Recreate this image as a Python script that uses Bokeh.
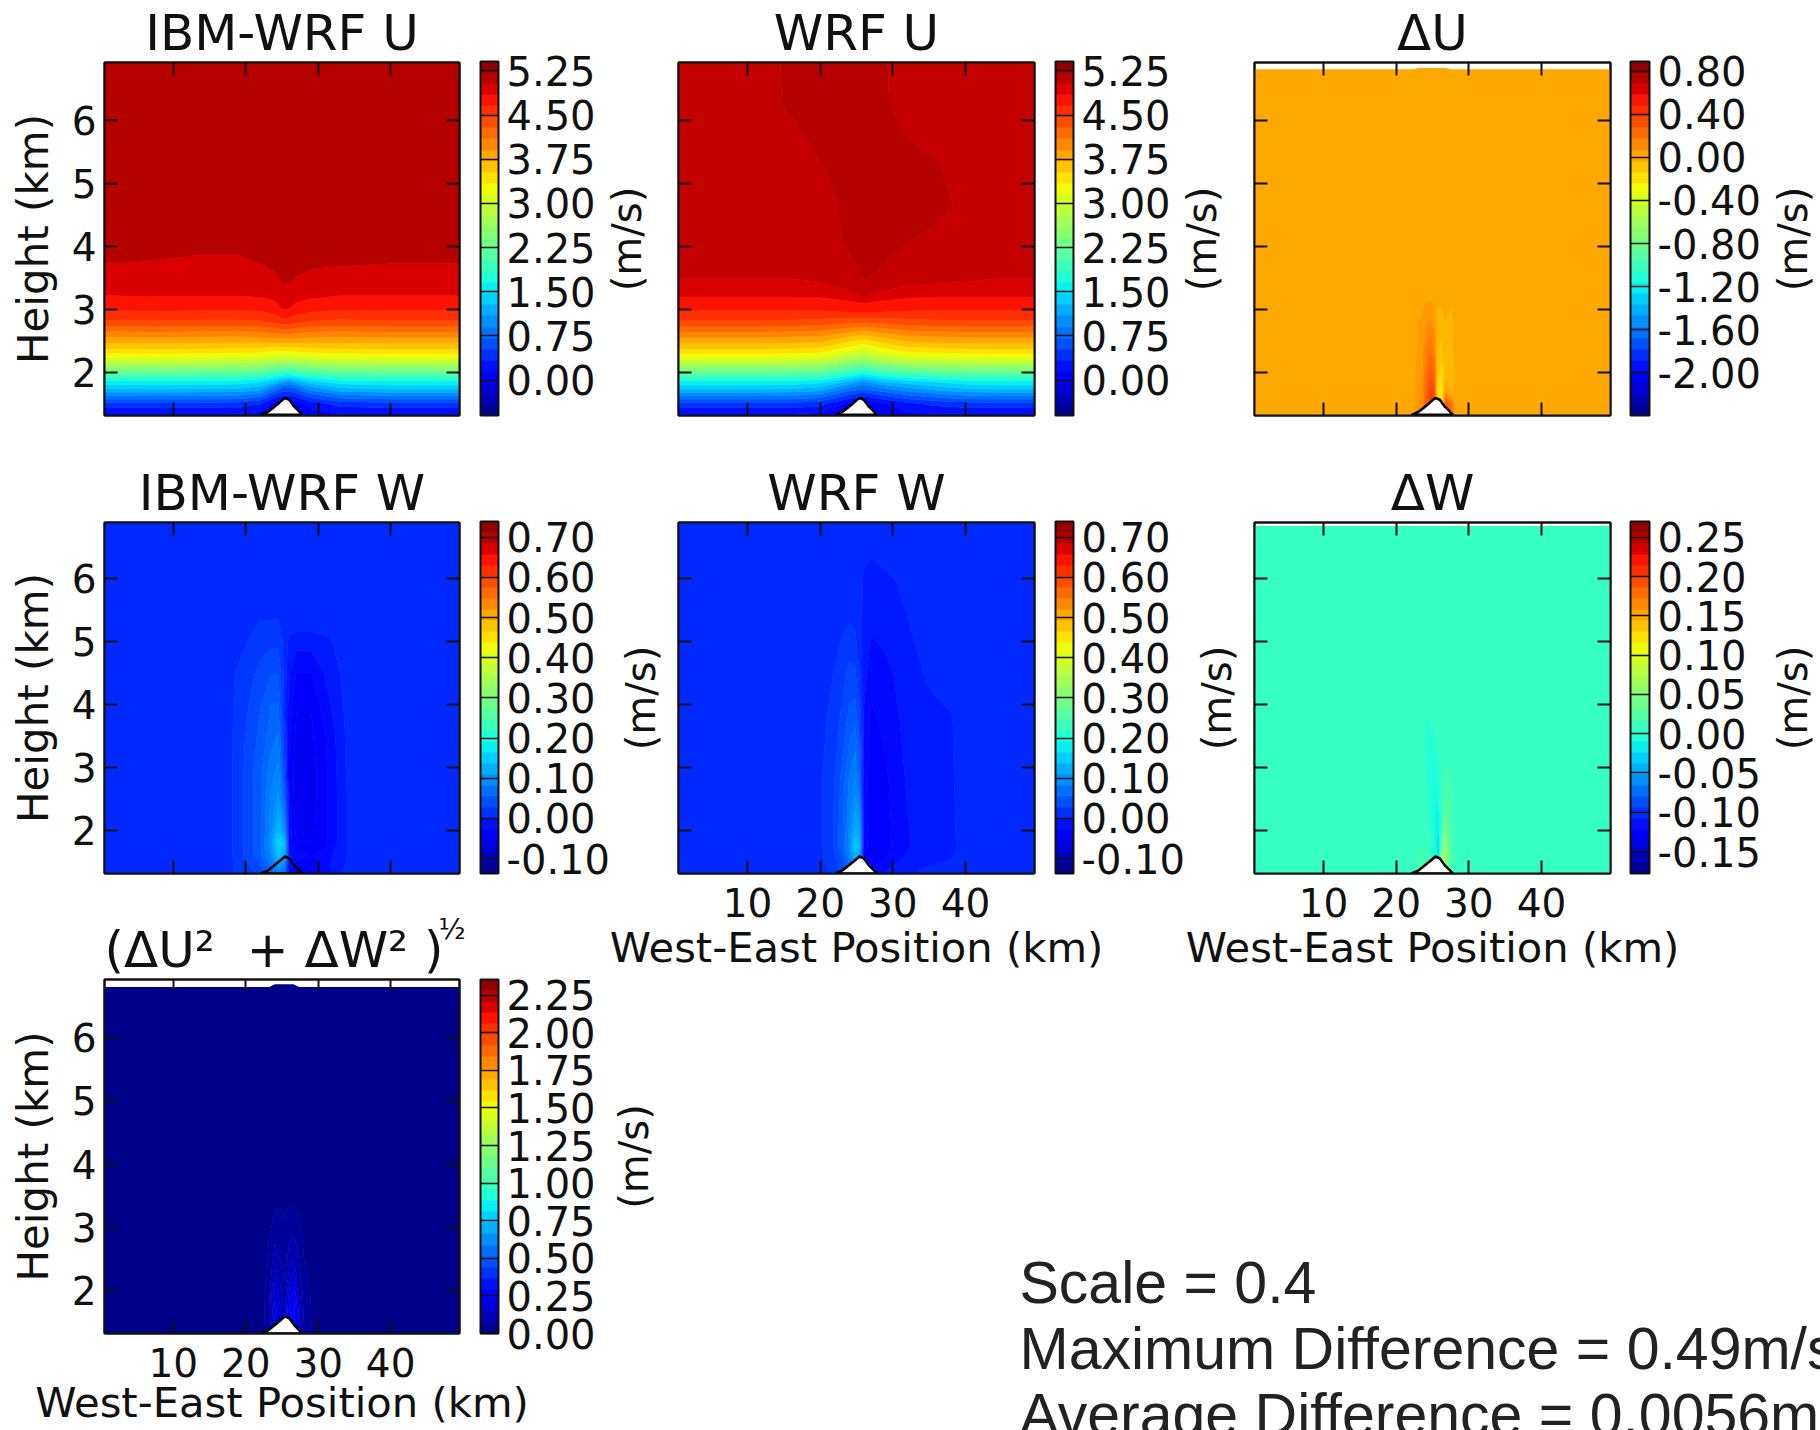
import math
import numpy as np
from bokeh.embed import file_html
from bokeh.resources import INLINE
from bokeh.layouts import column, row
from bokeh.models import (ColorBar, FixedTicker, Label, LinearAxis, LinearColorMapper,
                          PrintfTickFormatter, Range1d, Title)
from bokeh.plotting import figure

# ---------------------------------------------------------------- data
X_TICKS = [10, 20, 30, 40]
Y_TICKS = [2, 3, 4, 5, 6]
TERRAIN_X = [22.1, 23.1, 23.75, 24.6, 25.4, 26.0, 26.7, 27.4, 27.8]
TERRAIN_Y = [1.32, 1.37, 1.43, 1.51, 1.59, 1.56, 1.45, 1.37, 1.32]

U_IBM_X = [0.5, 8, 14, 19, 22, 24, 25, 26, 27, 29, 33, 40, 49.5]
U_IBM_Y = [1.32, 1.50, 1.74, 1.85, 2.00, 2.22, 2.35, 2.56, 2.80, 2.98, 3.22, 3.50, 3.74, 4.50, 6.92]
U_IBM_Z = [
    [.12, .12, .12, .12, .08, -.05, -.10, -.10, -.05, .05, .12, .12, .12],
    [.48, .48, .48, .46, .36, .08, -.05, -.05, .05, .25, .42, .48, .48],
    [1.30, 1.32, 1.30, 1.28, 1.18, .85, .70, .65, .75, 1.00, 1.25, 1.32, 1.32],
    [1.60, 1.62, 1.60, 1.58, 1.50, 1.30, 1.15, 1.05, 1.22, 1.40, 1.58, 1.62, 1.62],
    [2.22, 2.24, 2.22, 2.20, 2.14, 1.98, 1.92, 1.90, 1.98, 2.08, 2.20, 2.24, 2.24],
    [3.12, 3.14, 3.12, 3.10, 3.06, 2.98, 2.96, 2.97, 3.00, 3.06, 3.12, 3.14, 3.14],
    [3.48, 3.50, 3.48, 3.47, 3.44, 3.40, 3.38, 3.39, 3.41, 3.45, 3.48, 3.50, 3.50],
    [3.90, 3.92, 3.90, 3.90, 3.92, 3.96, 3.98, 3.98, 3.96, 3.92, 3.90, 3.92, 3.92],
    [4.44, 4.44, 4.42, 4.42, 4.44, 4.50, 4.56, 4.56, 4.50, 4.45, 4.42, 4.44, 4.44],
    [4.65, 4.66, 4.65, 4.65, 4.66, 4.72, 4.82, 4.82, 4.74, 4.68, 4.64, 4.65, 4.65],
    [4.84, 4.85, 4.85, 4.85, 4.86, 4.90, 4.98, 4.97, 4.92, 4.88, 4.84, 4.84, 4.84],
    [4.95, 4.96, 4.96, 4.96, 4.97, 5.00, 5.05, 5.05, 5.02, 4.99, 4.98, 4.95, 4.95],
    [5.03, 5.02, 5.01, 5.01, 5.03, 5.06, 5.09, 5.09, 5.07, 5.05, 5.04, 5.03, 5.03],
    [5.10, 5.10, 5.10, 5.10, 5.10, 5.10, 5.10, 5.10, 5.10, 5.10, 5.10, 5.10, 5.10],
    [5.14, 5.14, 5.14, 5.14, 5.14, 5.14, 5.14, 5.14, 5.14, 5.14, 5.14, 5.14, 5.14],
]

U_WRF_X = [0.5, 8, 12, 16, 20, 24, 26, 28, 32, 36, 40, 44, 49.5]
U_WRF_Y = [1.32, 1.50, 1.74, 1.85, 2.00, 2.22, 2.35, 2.56, 2.80, 2.98, 3.20, 3.43, 3.70, 4.00,
           4.70, 5.23, 5.76, 6.28, 6.92]
U_WRF_Z = [
    [.12, .12, .12, .12, .10, -.05, -.10, -.02, .10, .12, .12, .12, .12],
    [.48, .48, .48, .48, .42, .10, -.05, .10, .30, .40, .46, .48, .48],
    [1.32, 1.32, 1.32, 1.30, 1.22, .85, .75, .85, 1.05, 1.18, 1.28, 1.32, 1.32],
    [1.62, 1.62, 1.62, 1.60, 1.55, 1.25, 1.05, 1.25, 1.40, 1.50, 1.58, 1.62, 1.62],
    [2.24, 2.24, 2.24, 2.22, 2.18, 1.90, 1.75, 1.92, 2.10, 2.18, 2.22, 2.24, 2.24],
    [3.14, 3.14, 3.14, 3.12, 3.08, 2.80, 2.70, 2.85, 3.05, 3.10, 3.12, 3.14, 3.14],
    [3.50, 3.50, 3.50, 3.48, 3.44, 3.20, 3.08, 3.22, 3.42, 3.46, 3.48, 3.50, 3.50],
    [3.92, 3.92, 3.92, 3.90, 3.88, 3.70, 3.62, 3.72, 3.86, 3.90, 3.92, 3.92, 3.92],
    [4.44, 4.44, 4.44, 4.42, 4.40, 4.34, 4.32, 4.34, 4.40, 4.42, 4.44, 4.44, 4.44],
    [4.65, 4.65, 4.65, 4.65, 4.65, 4.70, 4.72, 4.70, 4.66, 4.65, 4.65, 4.65, 4.65],
    [4.84, 4.84, 4.84, 4.84, 4.85, 4.90, 4.94, 4.90, 4.86, 4.84, 4.84, 4.84, 4.84],
    [4.92, 4.92, 4.92, 4.92, 4.93, 4.97, 5.02, 5.00, 4.95, 4.94, 4.93, 4.92, 4.92],
    [4.97, 4.97, 4.97, 4.97, 4.97, 4.99, 5.06, 5.035, 4.955, 4.97, 4.97, 4.97, 4.97],
    [4.98, 4.98, 4.98, 4.98, 4.96, 5.04, 5.08, 5.08, 5.02, 4.98, 4.98, 4.98, 4.98],
    [4.98, 4.98, 4.98, 4.98, 4.98, 5.06, 5.09, 5.09, 5.08, 5.07, 4.99, 4.98, 4.98],
    [4.98, 4.98, 4.98, 4.98, 5.01, 5.09, 5.10, 5.10, 5.09, 5.04, 4.96, 4.97, 4.98],
    [4.98, 4.98, 4.98, 4.99, 5.07, 5.09, 5.09, 5.08, 5.02, 4.98, 4.98, 4.98, 4.98],
    [4.98, 4.98, 4.97, 5.05, 5.08, 5.08, 5.07, 5.055, 4.975, 4.98, 4.98, 4.98, 4.98],
    [4.98, 4.98, 4.975, 5.055, 5.08, 5.08, 5.07, 5.05, 4.97, 4.98, 4.98, 4.98, 4.98],
]

DU_X = [0.5, 20, 22.5, 23, 23.5, 24, 24.7, 25.3, 25.7, 26.2, 26.8, 27.6, 28.2, 30, 49.5]
DU_Y = [1.32, 1.50, 1.70, 2.00, 2.40, 2.80, 3.20, 6.30, 6.80]
DU_TOP = [6.81, 6.81, 6.81, 6.83, 6.83, 6.83, 6.83, 6.83, 6.83, 6.83, 6.83, 6.81, 6.81, 6.81, 6.81]
DU_Z = [
    [0, 0, .03, .06, .10, .25, .38, .40, .10, -.05, .30, .25, .03, 0, 0],
    [0, 0, .03, .06, .10, .25, .40, .42, -.10, -.18, .30, .20, .02, 0, 0],
    [0, 0, .03, .07, .08, .22, .38, .30, -.18, -.24, .05, -.03, 0, 0, 0],
    [0, 0, .02, .06, .06, .18, .28, .22, -.08, -.16, -.05, -.05, 0, 0, 0],
    [0, 0, .01, .04, .045, .13, .18, .12, -.06, -.08, -.03, -.04, 0, 0, 0],
    [0, 0, 0, .03, .035, .07, .09, .06, -.03, -.035, -.02, -.03, 0, 0, 0],
    [0, 0, 0, .01, .015, .02, .02, .01, -.01, -.01, 0, -.01, 0, 0, 0],
    [0, 0, 0, 0, 0, 0, 0, 0, 0, 0, 0, 0, 0, 0, 0],
    [0, 0, 0, 0, 0, 0, 0, 0, 0, 0, 0, 0, 0, 0, 0],
]

W_IBM_X = [0.5, 12, 18, 20, 22, 23.5, 24.5, 25.3, 26, 27, 29, 31, 34, 40, 49.5]
W_IBM_Y = [1.32, 1.60, 1.80, 2.00, 2.50, 3.00, 3.50, 4.00, 4.50, 5.00, 5.40, 6.00, 6.89]
W_IBM_Z = [
    [.012, .012, .012, .02, .03, .06, .08, .06, -.03, -.05, -.04, -.02, .005, .012, .012],
    [.012, .012, .012, .03, .05, .09, .14, .12, -.01, -.02, -.03, -.02, .0, .012, .012],
    [.012, .012, .012, .03, .05, .10, .16, .14, -.02, -.04, -.04, -.03, .0, .012, .012],
    [.012, .012, .012, .03, .05, .09, .135, .10, -.02, -.045, -.045, -.03, .0, .012, .012],
    [.012, .012, .012, .03, .05, .085, .10, .06, -.025, -.05, -.05, -.03, .0, .012, .012],
    [.012, .012, .012, .03, .05, .075, .085, .03, -.03, -.05, -.05, -.03, .002, .012, .012],
    [.012, .012, .012, .028, .045, .062, .07, .02, -.025, -.045, -.045, -.028, .003, .012, .012],
    [.012, .012, .012, .024, .04, .055, .055, .01, -.02, -.04, -.04, -.02, .004, .012, .012],
    [.012, .012, .012, .018, .033, .04, .04, .01, -.012, -.028, -.028, -.012, .006, .012, .012],
    [.012, .012, .012, .013, .02, .024, .024, .01, -.004, -.008, -.008, -.004, .008, .012, .012],
    [.012, .012, .012, .012, .012, .012, .012, .012, .011, .011, .011, .011, .012, .012, .012],
    [.012, .012, .012, .012, .012, .012, .012, .012, .012, .012, .012, .012, .012, .012, .012],
    [.012, .012, .012, .012, .012, .012, .012, .012, .012, .012, .012, .012, .012, .012, .012],
]

W_WRF_X = [0.5, 14, 20, 21.5, 23, 24, 24.8, 25.4, 26, 27, 29, 32, 35, 38, 40, 49.5]
W_WRF_Y = [1.32, 1.60, 1.75, 2.00, 2.80, 3.80, 4.50, 5.25, 5.95, 6.40, 6.89]
W_WRF_Z = [
    [.007, .007, .01, .015, .03, .055, .07, .05, -.02, -.025, -.012, -.002, .004, .007, .007, .007],
    [.007, .007, .012, .02, .04, .08, .13, .10, -.03, -.035, -.03, -.012, -.005, -.002, .007, .007],
    [.007, .007, .012, .022, .05, .09, .15, .13, -.02, -.035, -.032, -.015, -.006, -.004, .007, .007],
    [.007, .007, .012, .022, .05, .085, .125, .11, -.015, -.035, -.032, -.015, -.006, -.003, .006, .007],
    [.007, .007, .012, .02, .045, .07, .084, .06, -.02, -.034, -.03, -.012, -.005, -.002, .007, .007],
    [.007, .007, .01, .016, .03, .045, .05, .03, -.015, -.03, -.024, -.008, -.004, -.001, .007, .007],
    [.007, .007, .009, .012, .02, .032, .03, .014, -.008, -.022, -.018, -.006, .002, .007, .007, .007],
    [.007, .007, .007, .009, .012, .014, .012, .006, -.004, -.012, -.008, -.001, .007, .007, .007, .007],
    [.007, .007, .007, .007, .008, .009, .008, .005, -.002, -.006, -.003, .003, .007, .007, .007, .007],
    [.007, .007, .007, .007, .007, .007, .007, .007, .003, .001, .004, .007, .007, .007, .007, .007],
    [.007, .007, .007, .007, .007, .007, .007, .007, .007, .007, .007, .007, .007, .007, .007, .007],
]

DW_X = [0.5, 20, 23.5, 24.4, 25, 25.5, 25.9, 26.3, 26.7, 27.2, 27.8, 29, 49.5]
DW_Y = [1.32, 1.60, 1.85, 2.20, 2.75, 3.10, 3.50, 3.90, 6.80]
DW_TOP = [6.835] * 13
DW_Z = [
    [.0075, .0075, .012, .015, .0, -.02, -.02, .05, .06, .03, .01, .0075, .0075],
    [.0075, .0075, .012, .012, .0, -.015, -.022, .05, .065, .035, .012, .0075, .0075],
    [.0075, .0075, .010, .008, .0, -.014, -.022, .02, .055, .03, .012, .0075, .0075],
    [.0075, .0075, .009, .004, -.005, -.015, -.012, .012, .03, .022, .012, .0075, .0075],
    [.0075, .0075, .0075, .002, -.008, -.006, .0, .008, .015, .014, .01, .0075, .0075],
    [.0075, .0075, .0075, -.001, -.004, -.002, .003, .0075, .01, .01, .009, .0075, .0075],
    [.0075, .0075, .0075, -.001, .001, .004, .0075, .0075, .0075, .0075, .0075, .0075, .0075],
    [.0075, .0075, .0075, .006, .0075, .0075, .0075, .0075, .0075, .0075, .0075, .0075, .0075],
    [.0075, .0075, .0075, .0075, .0075, .0075, .0075, .0075, .0075, .0075, .0075, .0075, .0075],
]

MAG_X = [0.5, 20, 22.5, 23.3, 24, 24.8, 25.4, 26, 26.6, 27.3, 28, 29.5, 49.5]
MAG_Y = [1.32, 1.55, 1.70, 2.00, 2.40, 2.80, 3.20, 3.60, 6.80]
MAG_TOP = [6.80, 6.80, 6.80, 6.80, 6.84, 6.84, 6.84, 6.84, 6.84, 6.80, 6.80, 6.80, 6.80]
MAG_Z = [
    [.012, .012, .03, .06, .16, .15, .10, .20, .28, .12, .06, .02, .012],
    [.012, .012, .03, .08, .19, .16, .10, .22, .29, .14, .07, .02, .012],
    [.012, .012, .03, .08, .20, .15, .10, .24, .30, .14, .07, .02, .012],
    [.012, .012, .03, .07, .17, .12, .08, .19, .22, .11, .06, .02, .012],
    [.012, .012, .025, .05, .10, .08, .06, .10, .12, .08, .04, .015, .012],
    [.012, .012, .02, .04, .07, .05, .045, .07, .08, .06, .03, .012, .012],
    [.012, .012, .012, .02, .04, .04, .035, .045, .045, .03, .015, .012, .012],
    [.012, .012, .012, .012, .02, .03, .025, .025, .02, .015, .012, .012, .012],
    [.012, .012, .012, .012, .012, .012, .012, .012, .012, .012, .012, .012, .012],
]

U_TICKS = [0.00, 0.75, 1.50, 2.25, 3.00, 3.75, 4.50, 5.25]
W_TICKS = [-0.10, 0.00, 0.10, 0.20, 0.30, 0.40, 0.50, 0.60, 0.70]
DU_TICKS = [-2.00, -1.60, -1.20, -0.80, -0.40, 0.00, 0.40, 0.80]
DW_TICKS = [-0.15, -0.10, -0.05, 0.00, 0.05, 0.10, 0.15, 0.20, 0.25]
MAG_TICKS = [0.00, 0.25, 0.50, 0.75, 1.00, 1.25, 1.50, 1.75, 2.00, 2.25]

NOTES = ["Scale = 0.4", "Maximum Difference = 0.49m/s", "Average Difference = 0.0056m/s"]
UNITS = "(m/s)"
X_LABEL = "West-East Position (km)"
Y_LABEL = "Height (km)"

# ---------------------------------------------------------------- helpers
FONT = "DejaVu Sans"
INK = "#111111"
R_SEG = [(0, 0), (.35, 0), (.66, 1), (.89, 1), (1, .5)]
G_SEG = [(0, 0), (.125, 0), (.375, 1), (.64, 1), (.91, 0), (1, 0)]
B_SEG = [(0, .5), (.11, 1), (.34, 1), (.65, 0), (1, 0)]


def jet(pos):
    ch = []
    for seg in (R_SEG, G_SEG, B_SEG):
        xs, ys = zip(*seg)
        ch.append(int(round(255 * float(np.interp(pos, xs, ys)))))
    return "#%02x%02x%02x" % tuple(ch)


def bands(n):
    return [jet((i + .5) / n) for i in range(n)]


def make_panel(x0, y0, w, h, fl, fr, ft, fb, yr, title, xlabels=False, ylabels=False,
               left_units=None, title_align="center", xlabel_standoff=3):
    """x0,y0: page position of the figure; fl,fr,ft,fb: page box of the frame."""
    p = figure(width=w, height=h, x_range=Range1d(0.5, 49.5), y_range=Range1d(*yr),
               x_axis_type=None, y_axis_type=None, output_backend="svg", toolbar_location=None,
               min_border_left=fl - x0, min_border_right=x0 + w - fr,
               min_border_top=ft - y0, min_border_bottom=y0 + h - fb,
               outline_line_color=INK, outline_line_width=2)
    p.title = Title(text=title, align=title_align, text_font=FONT, text_font_size="50px",
                    text_font_style="normal", text_color=INK, standoff=2)
    for place, tick, shown in (("below", X_TICKS, xlabels), ("above", X_TICKS, False),
                               ("left", Y_TICKS, ylabels), ("right", Y_TICKS, False)):
        ax = LinearAxis(ticker=FixedTicker(ticks=tick), major_tick_in=13, major_tick_out=0,
                        minor_tick_line_color=None, major_tick_line_width=2,
                        major_tick_line_color=INK, axis_line_color=INK, axis_line_width=2,
                        axis_label_text_font=FONT, axis_label_text_font_style="normal",
                        axis_label_text_color=INK)
        if shown:
            ax.major_label_text_font = FONT
            ax.major_label_text_font_size = "39px"
            ax.major_label_text_color = INK
            ax.major_label_standoff = 14 if place == "below" else 8
        else:
            ax.major_label_text_font_size = "0px"
            ax.major_label_overrides = {t: "" for t in tick}
            ax.major_label_standoff = 0
        if place == "left" and ylabels:
            ax.axis_label = Y_LABEL
            ax.axis_label_text_font_size = "42px"
            ax.axis_label_standoff = 11
        if place == "left" and left_units is not None:
            ax.axis_label = UNITS
            ax.axis_label_text_font_size = "40px"
            ax.axis_label_standoff = fl - left_units - 23
        if place == "below" and xlabels:
            ax.axis_label = X_LABEL
            ax.axis_label_text_font_size = "41.7px"
            ax.axis_label_standoff = xlabel_standoff
        p.add_layout(ax, place)
    return p


def units_strip(w, h, ft, fb, x_center):
    """Narrow figure on the far right whose only content is the rotated units label."""
    fl = w - 4
    p = figure(width=w, height=h, x_range=Range1d(0, 1), y_range=Range1d(0, 1),
               x_axis_type=None, y_axis_type=None, output_backend="svg", toolbar_location=None,
               min_border_left=fl, min_border_right=4, min_border_top=ft, min_border_bottom=h - fb,
               outline_line_color=None)
    ax = LinearAxis(ticker=FixedTicker(ticks=[]), axis_line_color=None, major_tick_line_color=None,
                    minor_tick_line_color=None, major_label_text_font_size="0px",
                    major_label_standoff=0, axis_label=UNITS, axis_label_text_font=FONT,
                    axis_label_text_font_style="normal", axis_label_text_color=INK,
                    axis_label_text_font_size="40px", axis_label_standoff=fl - x_center - 23)
    p.add_layout(ax, "left")
    return p


def draw_field(p, xs, ys, top, z, levels, colors, cb_lo, cb_hi, cb_ticks, bar_off, bar_w, bar_h,
               terrain_fill="white"):
    gx, gy = np.meshgrid(np.array(xs, dtype=float), np.array(ys, dtype=float))
    gy[-1, :] = top
    Z = np.array(z, dtype=float)
    for _ in range(2):   # a second pass closes the seams between neighbouring bands
        p.contour(gx, gy, Z, levels, fill_color=colors, line_color=None)
    p.patch(TERRAIN_X, TERRAIN_Y, fill_color=terrain_fill, line_color="#000000", line_width=2.5)
    mapper = LinearColorMapper(palette=bands(32), low=cb_lo, high=cb_hi)
    cb = ColorBar(color_mapper=mapper, ticker=FixedTicker(ticks=cb_ticks),
                  formatter=PrintfTickFormatter(format="%.2f"),
                  width=bar_w, height=bar_h, padding=0, margin=0, location=(bar_off, 0),
                  background_fill_color=None, bar_line_color=INK, bar_line_width=2,
                  major_tick_in=bar_w, major_tick_line_color=INK, major_tick_line_width=1.5,
                  minor_tick_line_color=None, label_standoff=8,
                  major_label_text_font=FONT, major_label_text_font_size="40px",
                  major_label_text_color=INK)
    p.add_layout(cb)


# ---------------------------------------------------------------- panels
ROW1 = (1.31, 6.92)
ROW2 = (1.32, 6.89)
ROW3 = (1.32, 6.92)
STRIP_X = 1770
SPLIT = 609
F7_TOP = 890
f1 = make_panel(0, 0, 600, 460, 104, 459, 61, 415, ROW1, "IBM-WRF U", ylabels=True)
f2 = make_panel(600, 0, 570, 460, 678, 1034, 61, 415, ROW1, "WRF U", left_units=626)
f3 = make_panel(1170, 0, STRIP_X - 1170, 460, 1254, 1610, 61, 415, ROW1, "\u0394U", left_units=1201)
s3 = units_strip(1820 - STRIP_X, 460, 61, 415, 1792 - STRIP_X)
f4 = make_panel(0, 460, SPLIT, F7_TOP - 460, 104, 459, 521, 873, ROW2, "IBM-WRF W", ylabels=True)
f5 = make_panel(SPLIT, 460, 1187 - SPLIT, 514, 678, 1034, 521, 873, ROW2, "WRF W", xlabels=True,
                left_units=640)
f6 = make_panel(1187, 460, STRIP_X - 1187, 514, 1254, 1610, 521, 873, ROW2, "\u0394W", xlabels=True,
                left_units=1216)
s6 = units_strip(1820 - STRIP_X, 514, 61, 413, 1792 - STRIP_X)
f7 = make_panel(0, F7_TOP, SPLIT, 1430 - F7_TOP, 104, 459, 979, 1333, ROW3, "\u00bd",
                xlabels=True, ylabels=True, title_align="left", xlabel_standoff=-2)
f7.title.text_font_size = "28px"
f7.title.offset = 334
f7.title.standoff = -56
f7.add_layout(Title(text="(\u0394U\u00b2\u00a0\u00a0+ \u0394W\u00b2\u00a0)", align="left",
                    text_font=FONT, text_font_size="50px", text_font_style="normal",
                    text_color=INK, standoff=2), "above")

U_LO, U_HI = -0.60, 5.41
u_levels = list(np.linspace(-0.60, 5.40, 33))
u_colors = bands(32)
draw_field(f1, U_IBM_X, U_IBM_Y, U_IBM_Y[-1], U_IBM_Z, u_levels, u_colors, U_LO, U_HI, U_TICKS,
           376, 18, 354)
wrf_levels = u_levels[:30] + [4.93] + u_levels[30:]
wrf_colors = u_colors[:29] + [jet(.922), jet(.9406)] + u_colors[30:]
draw_field(f2, U_WRF_X, U_WRF_Y, U_WRF_Y[-1], U_WRF_Z, wrf_levels, wrf_colors, U_LO, U_HI, U_TICKS,
           377, 18, 354)
DU_LO, DU_HI = -2.395, 0.889
draw_field(f3, DU_X, DU_Y, DU_TOP, DU_Z, list(np.linspace(DU_LO, DU_HI, 66)), bands(65),
           DU_LO, DU_HI, DU_TICKS, 376, 19, 354)

W_LO, W_HI = -0.137, 0.739
w_levels = list(np.linspace(W_LO, W_HI, 65))
draw_field(f4, W_IBM_X, W_IBM_Y, W_IBM_Y[-1], W_IBM_Z, w_levels, bands(64), W_LO, W_HI, W_TICKS,
           376, 18, 352, terrain_fill=None)
draw_field(f5, W_WRF_X, W_WRF_Y, W_WRF_Y[-1], W_WRF_Z, w_levels, bands(64), W_LO, W_HI, W_TICKS,
           377, 18, 352)
DW_LO, DW_HI = -0.178, 0.27
draw_field(f6, DW_X, DW_Y, DW_TOP, DW_Z, list(np.linspace(DW_LO, DW_HI, 65)), bands(64),
           DW_LO, DW_HI, DW_TICKS, 376, 19, 352)

M_LO, M_HI = 0.0, 2.354
draw_field(f7, MAG_X, MAG_Y, MAG_TOP, MAG_Z, list(np.linspace(M_LO, M_HI, 65)), bands(64),
           M_LO, M_HI, MAG_TICKS, 376, 18, 354)

# ---------------------------------------------------------------- notes
notes = figure(width=1820 - SPLIT, height=456, x_range=Range1d(0, 1), y_range=Range1d(0, 1),
               x_axis_type=None, y_axis_type=None, output_backend="svg", toolbar_location=None,
               min_border_left=0, min_border_right=0, min_border_top=0, min_border_bottom=0,
               outline_line_color=None)
NOTE_BOTTOM = 1430
notes.add_layout(Label(x=633 - SPLIT, y=NOTE_BOTTOM - 1156, x_units="screen", y_units="screen",
                       text=UNITS, angle=math.pi / 2, text_font=FONT, text_font_size="40px",
                       text_color=INK, text_align="center", text_baseline="middle"))
for line, mid in zip(NOTES, (1282, 1348, 1414)):
    notes.add_layout(Label(x=1019 - SPLIT, y=NOTE_BOTTOM - mid, x_units="screen", y_units="screen",
                           text=line, text_font="Liberation Sans", text_font_size="59px",
                           text_color="#222222", text_align="left", text_baseline="middle"))

layout = column(
    row(f1, f2, f3, s3, spacing=0),
    row(column(f4, f7, spacing=0),
        column(row(f5, f6, s6, spacing=0), notes, spacing=0), spacing=0),
    spacing=0,
)
open("out.html", "w").write(file_html(layout, INLINE))
